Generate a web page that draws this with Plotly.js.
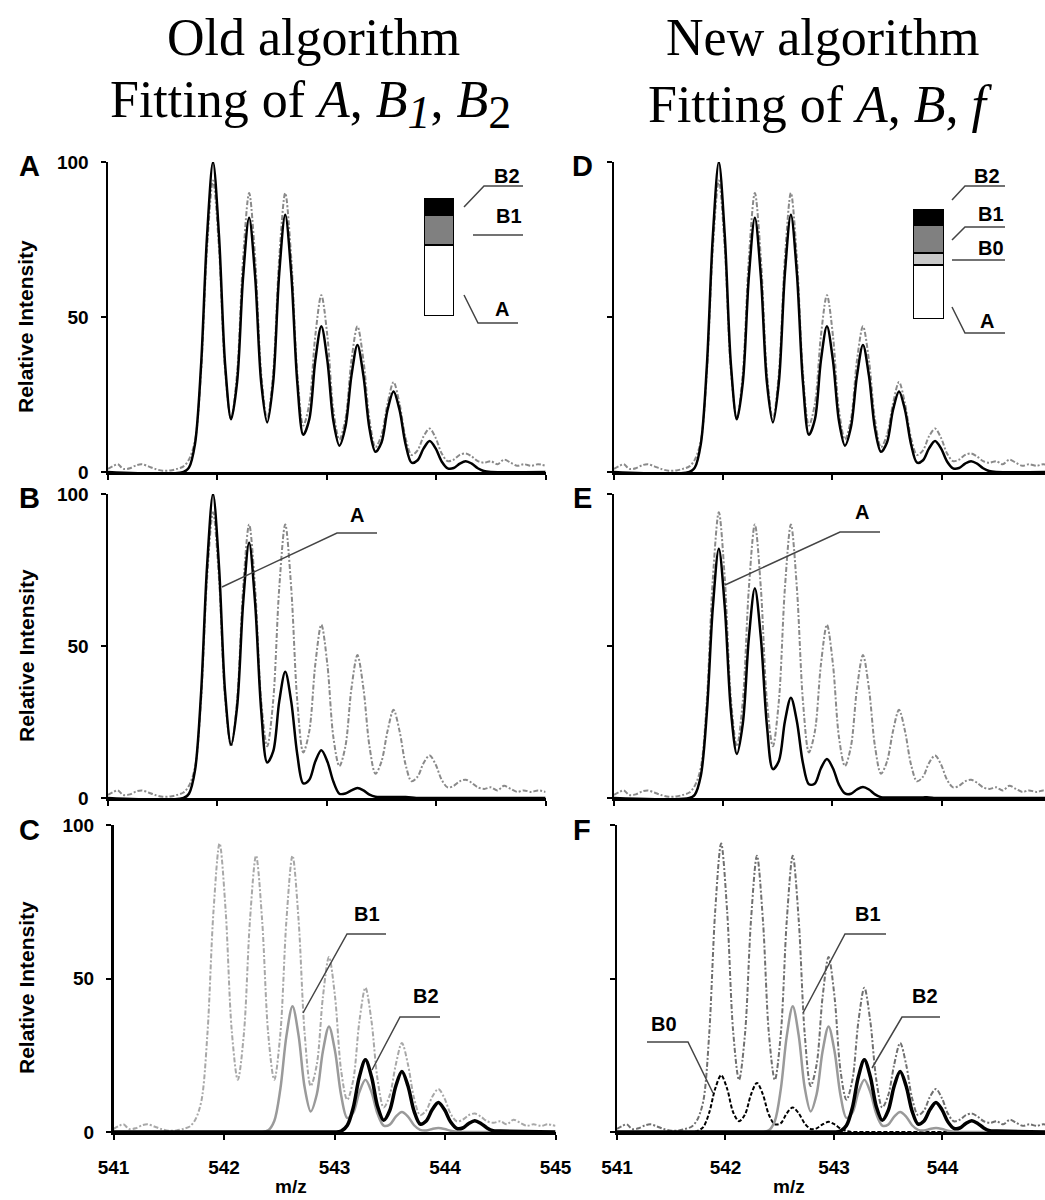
<!DOCTYPE html>
<html><head><meta charset="utf-8">
<script src="https://cdn.plot.ly/plotly-3.0.1.min.js"></script>
<style>html,body{margin:0;padding:0;background:#fff}#chart{width:1045px;height:1200px}</style>
</head><body><div id="chart"></div>
<script>
// ---------- data ----------
const expMz = [541.00,541.05,541.09,541.14,541.20,541.26,541.31,541.37,541.43,541.50,541.57,541.63,541.69,541.74,541.795,
 541.85,541.905,541.96,542.015,542.07,542.125,
 542.18,542.235,542.29,542.345,542.40,542.455,
 542.51,542.565,542.62,542.675,542.73,542.785,
 542.84,542.895,542.95,543.005,543.06,543.115,
 543.17,543.225,543.28,543.335,543.39,543.445,
 543.50,543.555,543.61,543.665,543.72,543.775,
 543.83,543.885,543.94,543.995,544.05,544.105,
 544.16,544.215,544.27,544.325,544.38,
 544.44,544.50,544.56,544.62,544.68,544.74,544.80,544.87,544.93,545.00];
const expInt = [1,2,2.5,1,1.2,2.2,2.5,1.8,1,0.4,0.5,1,1.8,4,10,
 32,72,94,72,33,17,
 32,69,90,69,32,17,
 32,69,90,69,32,15,
 22,44,57,44,20,10.5,
 17,36,47,36,17,8,
 12,22,29,22,11,5.5,
 7,11.5,14,11,6,3.5,
 4,5.5,6,5,3.5,
 3,3.5,2.5,4,3,2,2.5,2,2.5,2];

const modelMz = [541.00,541.69,541.74,541.795,
 541.85,541.905,541.96,542.015,542.07,542.125,
 542.18,542.235,542.29,542.345,542.40,542.455,
 542.51,542.565,542.62,542.675,542.73,542.785,
 542.84,542.895,542.95,543.005,543.06,543.115,
 543.17,543.225,543.28,543.335,543.39,543.445,
 543.50,543.555,543.61,543.665,543.72,543.775,
 543.83,543.885,543.94,543.995,544.05,544.105,
 544.16,544.215,544.27,544.325,544.38,
 544.435,544.50,545.00];
const fitInt = [0,0,1.4,9,
 34,76,100,76,35,17,
 29,63,82,63,29,16,
 29,64,83,64,29,12,
 17,36,47,36,16.5,8.5,
 14.5,31,41,31,14,6.5,
 9.5,20,26,20,9,3,
 3.8,7.6,10,7.6,3.4,1.2,
 1.3,2.7,3.5,2.7,1.2,
 0.3,0,0];
const aOldInt = [0,0,1.4,9,
 34,76,100,76,35,17.5,
 30,64,84,64,29,11.7,
 15.3,31.7,41.5,31.7,14.4,4.8,
 6,12,15.7,12,5.4,1.4,
 1.5,2.5,3.3,2.5,1.1,0.4,
 0.3,0.3,0.3,0.3,0.3,0.2,
 0,0,0,0,0,0,
 0,0,0,0,0,
 0,0,0];
const aNewInt = [0,0,1.1,7.3,
 28,62.6,82,62.6,29,14.5,
 24.6,52.7,69,52.7,24,9.5,
 12.2,25.2,33,25.2,11.5,4.5,
 4.8,9.8,12.8,9.8,4.4,1.5,
 1.4,2.8,3.6,2.8,1.2,0.3,
 0.2,0.2,0.2,0.2,0.2,0.2,
 0.2,0.2,0,0,0,0,
 0,0,0,0,0,
 0,0,0];
const b0Int = [0,0,0.3,1.6,
 6.3,14.1,18.5,14.1,6.5,3.5,
 5.7,12.2,16,12.2,5.6,2.5,
 2.9,6.1,8,6.1,2.8,1,
 1.2,2.5,3.3,2.5,1.1,0.3,
 0,0,0,0,0,0,
 0,0,0,0,0,0,
 0,0,0,0,0,0,
 0,0,0,0,0,
 0,0,0];
const b1Int = [0,0,0,0,
 0,0,0,0,0,0,
 0,0,0,0,0.55,3.6,
 14,31.3,41,31.4,14.5,6.7,
 12.3,26.3,34.4,26.3,12,4.6,
 6.3,13,17,13,5.9,2.1,
 2.4,5,6.5,5,2.2,0.7,
 0.5,1,1.3,1,0.4,0.1,
 0,0,0,0,0,
 0,0,0];
const b2Int = [0,0,0,0,
 0,0,0,0,0,0,
 0,0,0,0,0,0,
 0,0,0,0,0,0,
 0,0,0,0,0.3,2.1,
 8,18,23.5,18,8.3,3.8,
 7,15,19.7,15,6.8,2.6,
 3.6,7.3,9.6,7.3,3.3,1.2,
 1.3,2.8,3.7,2.8,1.3,
 0.4,0.3,0];

const insetOldNames = ['A','B1','B2'];
const insetOldVals = [60,25,15];
const insetNewNames = ['A','B0','B1','B2'];
const insetNewVals = [49,11,25,15];

const xTicks = [541,542,543,544,545];
const xTickText = ['541','542','543','544','545'];
const yTicks = [0,50,100];
const yTickText = ['0','50','100'];

// ---------- helpers ----------
const W = 1045, H = 1200;
const fx = p => p / W, fy = p => 1 - p / H;
const SANS = '"Liberation Sans", Arial, Helvetica, sans-serif';
const SERIF = '"Liberation Serif", "Times New Roman", Times, serif';
const tickFont = {family: SANS, size: 19, color: '#000', weight: 'bold'};

function xax(x0, x1, rEnd, anchor, labels) {
  return {domain: [fx(x0), fx(x1)], range: [541, rEnd], anchor: anchor,
    showline: true, linecolor: '#000', linewidth: 2.5, ticks: 'outside', ticklen: 5, tickwidth: 2,
    tickcolor: '#000', tickmode: 'array', tickvals: xTicks, ticktext: xTickText,
    showticklabels: labels, tickfont: tickFont, ticklabelstandoff: 12,
    showgrid: false, zeroline: false, fixedrange: true, layer: 'above traces'};
}
function yax(top, bottom, anchor, labels) {
  return {domain: [fy(bottom), fy(top)], range: [0, 100], anchor: anchor,
    showline: true, linecolor: '#000', linewidth: 2.5, ticks: 'outside', ticklen: 5, tickwidth: 2,
    tickcolor: '#000', tickmode: 'array', tickvals: yTicks, ticktext: yTickText,
    showticklabels: labels, tickfont: tickFont, ticklabelstandoff: 8,
    showgrid: false, zeroline: false, fixedrange: true, layer: 'above traces'};
}
function line(x, y, xa, ya, color, width, dash) {
  return {type: 'scatter', mode: 'lines', x: x, y: y, xaxis: xa, yaxis: ya,
    line: {color: color, width: width, dash: dash || 'solid', shape: 'spline', smoothing: 0.9},
    hoverinfo: 'skip', showlegend: false};
}
const EXPDASH = '5px,2px,2px,2px';

const traces = [
  // A
  line(expMz, expInt, 'x', 'y', '#8a8a8a', 2, EXPDASH),
  line(modelMz, fitInt, 'x', 'y', '#000', 2.5),
  // D
  line(expMz, expInt, 'x2', 'y2', '#8a8a8a', 2, EXPDASH),
  line(modelMz, fitInt, 'x2', 'y2', '#000', 2.5),
  // B
  line(expMz, expInt, 'x3', 'y3', '#8a8a8a', 2, EXPDASH),
  line(modelMz, aOldInt, 'x3', 'y3', '#000', 2.5),
  // E
  line(expMz, expInt, 'x4', 'y4', '#8a8a8a', 2, EXPDASH),
  line(modelMz, aNewInt, 'x4', 'y4', '#000', 2.5),
  // C
  line(expMz, expInt, 'x5', 'y5', '#a8a8a8', 2, EXPDASH),
  line(modelMz, b1Int, 'x5', 'y5', '#9a9a9a', 2.5),
  line(modelMz, b2Int, 'x5', 'y5', '#000', 3.5),
  // F
  line(expMz, expInt, 'x6', 'y6', '#707070', 2, EXPDASH),
  line(modelMz, b0Int, 'x6', 'y6', '#000', 2, '4px,2px'),
  line(modelMz, b1Int, 'x6', 'y6', '#9a9a9a', 2.5),
  line(modelMz, b2Int, 'x6', 'y6', '#000', 3.5)
];

const oldColors = ['#ffffff', '#808080', '#000000'];
insetOldNames.forEach((n, i) => traces.push({type: 'bar', x: ['s'], y: [insetOldVals[i]], name: n,
  xaxis: 'x7', yaxis: 'y7', width: 1, cliponaxis: false, hoverinfo: 'skip', showlegend: false,
  marker: {color: oldColors[i], line: {color: '#000', width: 1.5}}}));
const newColors = ['#ffffff', '#c8c8c8', '#808080', '#000000'];
insetNewNames.forEach((n, i) => traces.push({type: 'bar', x: ['s'], y: [insetNewVals[i]], name: n,
  xaxis: 'x8', yaxis: 'y8', width: 1, cliponaxis: false, hoverinfo: 'skip', showlegend: false,
  marker: {color: newColors[i], line: {color: '#000', width: 1.5}}}));

// ---------- text ----------
const ann = [];
function txt(s, x, y, font, extra) {
  ann.push(Object.assign({text: s, x: fx(x), y: fy(y), xref: 'paper', yref: 'paper',
    showarrow: false, xanchor: 'center', yanchor: 'middle', font: font}, extra || {}));
}
const titleFont = {family: SERIF, size: 52, color: '#000'};
txt('Old algorithm', 313, 37, titleFont);
txt('Fitting of <i>A</i>, <i>B</i><sub><span style="font-size:46px"><i>1</i></span></sub>, <i>B</i><sub><span style="font-size:46px">2</span></sub>', 310, 104, titleFont);
txt('New algorithm', 822, 37, titleFont);
txt('Fitting of <i>A</i>, <i>B</i>, <i>f</i>', 820, 104, titleFont);

const letterFont = {family: SANS, size: 29, color: '#000', weight: 'bold'};
[['A', 29, 166], ['B', 29, 498], ['C', 29, 830], ['D', 582, 166], ['E', 582, 498], ['F', 582, 830]]
  .forEach(l => txt(l[0], l[1], l[2], letterFont));

const axFont = {family: SANS, size: 21, color: '#000', weight: 'bold'};
[327, 656, 988].forEach(y => txt('Relative Intensity', 26, y, axFont, {textangle: -90}));
const mzFont = {family: SANS, size: 19, color: '#000', weight: 'bold'};
txt('m/z', 291, 1186, mzFont);
txt('m/z', 789, 1186, mzFont);

const labFont = {family: SANS, size: 20, color: '#000', weight: 'bold'};
[['B2', 507, 176], ['B1', 509, 216], ['A', 502, 309],
 ['B2', 987, 176], ['B1', 991, 214], ['B0', 991, 248], ['A', 987, 321],
 ['A', 357, 515], ['A', 862, 512],
 ['B1', 367, 914], ['B2', 426, 996],
 ['B1', 868, 914], ['B2', 925, 996], ['B0', 664, 1024]]
 .forEach(l => txt(l[0], l[1], l[2], labFont));

// leader lines (page furniture, paper coordinates)
const leaders = [
  [[464,207],[484,186],[523,186]], [[473,235],[523,235]], [[464,295],[478,323],[518,323]],
  [[952,200],[965,186],[1005,186]], [[952,240],[965,227],[1005,227]], [[952,260],[1005,260]], [[952,307],[965,333],[1005,333]],
  [[222,587],[337,533],[377,533]], [[725,585],[840,532],[880,532]],
  [[303,1013],[347,934],[386,934]], [[372,1070],[400,1017],[440,1017]],
  [[803,1013],[845,934],[886,934]], [[872,1068],[902,1017],[940,1017]], [[647,1042],[688,1042],[713,1093]]
];
const shapes = leaders.map(pts => ({type: 'path', xref: 'paper', yref: 'paper',
  path: pts.map((p, i) => (i ? 'L' : 'M') + fx(p[0]).toFixed(5) + ',' + fy(p[1]).toFixed(5)).join(' '),
  line: {color: '#444', width: 1.5}}));

const layout = {
  width: W, height: H, margin: {l: 0, r: 0, t: 0, b: 0, pad: 0},
  paper_bgcolor: '#fff', plot_bgcolor: 'rgba(0,0,0,0)', showlegend: false,
  barmode: 'stack', bargap: 0,
  xaxis:  xax(108, 545.6, 545, 'y', false),
  yaxis:  yax(162, 472, 'x', true),
  xaxis2: xax(614, 1045, 544.947, 'y2', false),
  yaxis2: yax(162, 472, 'x2', false),
  xaxis3: xax(108, 545.6, 545, 'y3', false),
  yaxis3: yax(494, 798, 'x3', true),
  xaxis4: xax(614, 1045, 544.947, 'y4', false),
  yaxis4: yax(494, 798, 'x4', false),
  xaxis5: xax(113.5, 555.5, 545, 'y5', true),
  yaxis5: yax(825, 1132, 'x5', true),
  xaxis6: xax(617, 1045, 544.945, 'y6', true),
  yaxis6: yax(825, 1132, 'x6', false),
  xaxis7: {domain: [fx(424), fx(454)], range: [-0.5, 0.5], visible: false, fixedrange: true, anchor: 'y7'},
  yaxis7: {domain: [fy(316), fy(198)], range: [0, 100], visible: false, fixedrange: true, anchor: 'x7'},
  xaxis8: {domain: [fx(913), fx(944)], range: [-0.5, 0.5], visible: false, fixedrange: true, anchor: 'y8'},
  yaxis8: {domain: [fy(319), fy(209)], range: [0, 100], visible: false, fixedrange: true, anchor: 'x8'},
  annotations: ann,
  shapes: shapes
};

Plotly.newPlot('chart', traces, layout, {staticPlot: true, displayModeBar: false});
</script></body></html>
